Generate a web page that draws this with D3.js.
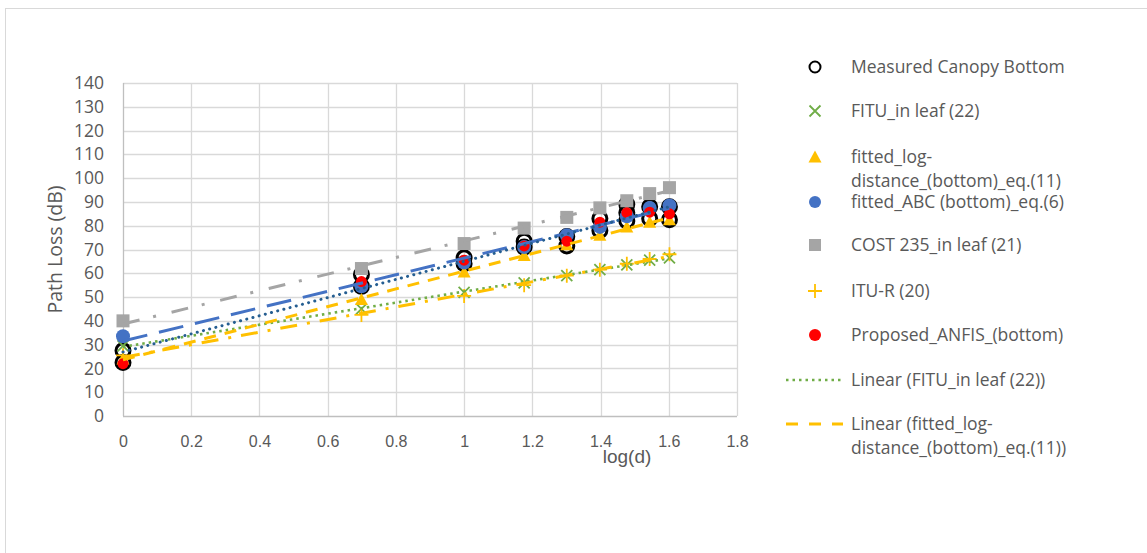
<!DOCTYPE html>
<html>
<head>
<meta charset="utf-8">
<script src="https://cdn.jsdelivr.net/npm/d3@7/dist/d3.min.js"></script>
<style>
  body { margin: 0; background: #fff; }
  svg { display: block; }
  .tick text { fill: #595959; }
</style>
</head>
<body>
<svg id="chart" width="1147" height="553"></svg>
<script>
// log10 of the link distances 1, 5, 10, ..., 40 m
const logD = [0, 0.699, 1, 1.176, 1.301, 1.398, 1.477, 1.544, 1.602];

// measured path loss: several samples per distance
const measuredX = [0, 0, 0.699, 0.699, 1, 1, 1.176, 1.176, 1.301, 1.301,
                   1.398, 1.398, 1.477, 1.477, 1.477, 1.544, 1.544, 1.602, 1.602];
const measuredY = [27.5, 22.5, 59.5, 54.5, 66.5, 64, 73.5, 71, 75.5, 71.5,
                   83, 78, 89, 85.5, 82, 88, 83, 88, 82.5];

const fituInLeaf   = [29.5, 45, 52, 56, 59, 61.5, 63.5, 65.5, 66.5];
const fittedLogDist = [24, 49, 60.5, 67.5, 72, 76, 79.5, 81.5, 82.5];
const fittedABC    = [33.5, 54.5, 64.5, 71, 76, 79.5, 84, 87.5, 88.5];
const cost235      = [40, 62, 72.5, 79, 83.5, 87.5, 90.5, 93.5, 96];
const ituR         = [25.5, 42.5, 50.5, 55, 59, 61.5, 64, 66, 68];
const anfis        = [22, 56.5, 65.5, 71.5, 73.5, 81.5, 85.5, 85.7, 85];

const yTicks = [0, 10, 20, 30, 40, 50, 60, 70, 80, 90, 100, 110, 120, 130, 140];
const xTicks = [0, 0.2, 0.4, 0.6, 0.8, 1, 1.2, 1.4, 1.6, 1.8];

const legendLabels = [
  ["Measured Canopy Bottom"],
  ["FITU_in leaf (22)"],
  ["fitted_log-", "distance_(bottom)_eq.(11)"],
  ["fitted_ABC (bottom)_eq.(6)"],
  ["COST 235_in leaf (21)"],
  ["ITU-R (20)"],
  ["Proposed_ANFIS_(bottom)"],
  ["Linear (FITU_in leaf (22))"],
  ["Linear (fitted_log-", "distance_(bottom)_eq.(11))"]
];

const svg = d3.select("#chart");
const font = "'Open Sans', sans-serif";
const narrow = "'Liberation Sans Narrow', 'Arial Narrow', 'Liberation Sans', sans-serif";

// chart area frame
svg.append("rect").attr("x", 5.5).attr("y", 8.5).attr("width", 1300).attr("height", 700)
  .attr("fill", "#fff").attr("stroke", "#d9d9d9").attr("stroke-width", 1);

const x = d3.scaleLinear().domain([0, 1.8]).range([123, 737]);
const y = d3.scaleLinear().domain([0, 140]).range([416, 83]);

// gridlines
const grid = svg.append("g");
grid.selectAll("line.h").data(yTicks.slice(1)).join("line")
  .attr("x1", x(0)).attr("x2", x(1.8))
  .attr("y1", d => Math.round(y(d)) + 0.5).attr("y2", d => Math.round(y(d)) + 0.5)
  .attr("stroke", "#d9d9d9").attr("stroke-width", 1.3);
grid.selectAll("line.v").data(xTicks.slice(1)).join("line")
  .attr("x1", d => Math.round(x(d)) + 0.5).attr("x2", d => Math.round(x(d)) + 0.5)
  .attr("y1", y(0)).attr("y2", y(140))
  .attr("stroke", "#d9d9d9").attr("stroke-width", 1.3);

// axis lines
svg.append("line").attr("x1", x(0)).attr("x2", x(1.8)).attr("y1", y(0) + 0.5).attr("y2", y(0) + 0.5)
  .attr("stroke", "#bfbfbf").attr("stroke-width", 1.3);
svg.append("line").attr("x1", x(0) + 0.5).attr("x2", x(0) + 0.5).attr("y1", y(0)).attr("y2", y(140))
  .attr("stroke", "#bfbfbf").attr("stroke-width", 1.3);

// tick labels
const yAxis = svg.append("g").attr("transform", `translate(${x(0)},0)`)
  .call(d3.axisLeft(y).tickValues(yTicks).tickSize(0).tickPadding(19).tickFormat(d3.format("d")));
yAxis.select(".domain").remove();
yAxis.selectAll("text").attr("font-family", font).attr("font-size", 17.5).attr("fill", "#595959");

const xAxis = svg.append("g").attr("transform", `translate(0,${y(0)})`)
  .call(d3.axisBottom(x).tickValues(xTicks).tickSize(0).tickPadding(20).tickFormat(d => String(d)));
xAxis.select(".domain").remove();
xAxis.selectAll("text").attr("font-family", narrow).attr("font-size", 16).attr("fill", "#595959");

// axis titles
svg.append("text").attr("x", 627).attr("y", 463).attr("text-anchor", "middle")
  .attr("font-family", narrow).attr("font-size", 19).attr("fill", "#595959").text("log(d)");
svg.append("text").attr("transform", `translate(62,${(y(0) + y(140)) / 2}) rotate(-90)`)
  .attr("text-anchor", "middle").attr("font-family", font).attr("font-size", 19.5)
  .attr("fill", "#595959").text("Path Loss (dB)");

// marker shapes
const markers = {
  circleOpen: (g, cx, cy) => g.append("circle").attr("cx", cx).attr("cy", cy).attr("r", 7)
    .attr("fill", "none").attr("stroke", "#000").attr("stroke-width", 3),
  cross: (g, cx, cy, c) => g.append("path")
    .attr("d", `M${cx - 5.5},${cy - 5.5}L${cx + 5.5},${cy + 5.5}M${cx - 5.5},${cy + 5.5}L${cx + 5.5},${cy - 5.5}`)
    .attr("stroke", c).attr("stroke-width", 1.8).attr("fill", "none"),
  triangle: (g, cx, cy, c) => g.append("path")
    .attr("d", `M${cx},${cy - 6.5}L${cx + 6.5},${cy + 5.5}L${cx - 6.5},${cy + 5.5}Z`).attr("fill", c),
  dot: (g, cx, cy, c, r) => g.append("circle").attr("cx", cx).attr("cy", cy).attr("r", r).attr("fill", c),
  square: (g, cx, cy, c) => g.append("rect").attr("x", cx - 6.5).attr("y", cy - 6.5)
    .attr("width", 13).attr("height", 13).attr("fill", c),
  plus: (g, cx, cy, c) => g.append("path")
    .attr("d", `M${cx - 7},${cy}L${cx + 7},${cy}M${cx},${cy - 7}L${cx},${cy + 7}`)
    .attr("stroke", c).attr("stroke-width", 1.8).attr("fill", "none")
};

const pts = svg.append("g");
measuredX.forEach((d, i) => markers.circleOpen(pts, x(d), y(measuredY[i])));
logD.forEach((d, i) => markers.cross(pts, x(d), y(fituInLeaf[i]), "#70AD47"));
logD.forEach((d, i) => markers.triangle(pts, x(d), y(fittedLogDist[i]), "#FFC000"));
logD.forEach((d, i) => markers.dot(pts, x(d), y(fittedABC[i]), "#4472C4", 7));
logD.forEach((d, i) => markers.square(pts, x(d), y(cost235[i]), "#A5A5A5"));
logD.forEach((d, i) => markers.plus(pts, x(d), y(ituR[i]), "#FFC000"));
logD.forEach((d, i) => markers.dot(pts, x(d), y(anfis[i]), "#FF0000", 5.5));

// least-squares trendlines
function fit(xs, ys) {
  const mx = d3.mean(xs), my = d3.mean(ys);
  const b = d3.sum(xs, (v, i) => (v - mx) * (ys[i] - my)) / d3.sum(xs, v => (v - mx) * (v - mx));
  return { a: my - b * mx, b };
}
const trend = svg.append("g");
function trendline(xs, ys, color, dash, width, cap) {
  const f = fit(xs, ys);
  const x0 = d3.min(xs), x1 = d3.max(xs);
  trend.append("line")
    .attr("x1", x(x0)).attr("y1", y(f.a + f.b * x0))
    .attr("x2", x(x1)).attr("y2", y(f.a + f.b * x1))
    .attr("stroke", color).attr("stroke-width", width)
    .attr("stroke-dasharray", dash).attr("stroke-linecap", cap || "butt");
}
trendline(logD, cost235, "#A5A5A5", "17,14,3,16", 3);
trendline(logD, fittedABC, "#4472C4", "25,12", 3);
trendline(measuredX, measuredY, "#255E91", "0.1,6.3", 3, "round");
trendline(logD, fituInLeaf, "#70AD47", "2.5,4", 2.6);
trendline(logD, fittedLogDist, "#FFC000", "12,9", 3);
trendline(logD, ituR, "#FFC000", "17,10,3,10", 3);

// legend
const legend = svg.append("g");
const rowY = [67, 111, 157, 202, 245, 291, 335, 380, 424];
const lx = 815, tx = 851, lineGap = 24;
legendLabels.forEach((lines, i) => {
  const t = legend.append("text").attr("x", tx).attr("y", rowY[i])
    .attr("dy", "0.35em").attr("font-family", font).attr("font-size", 17.5).attr("fill", "#595959");
  lines.forEach((s, j) => t.append("tspan").attr("x", tx).attr("dy", j === 0 ? "0.35em" : lineGap).text(s));
});
const L = legend;
L.append("circle").attr("cx", lx).attr("cy", rowY[0]).attr("r", 5.5)
  .attr("fill", "#fff").attr("stroke", "#000").attr("stroke-width", 2);
markers.cross(L, lx, rowY[1], "#70AD47");
markers.triangle(L, lx, rowY[2], "#FFC000");
markers.dot(L, lx, rowY[3], "#4472C4", 6);
L.append("rect").attr("x", lx - 6).attr("y", rowY[4] - 6).attr("width", 12).attr("height", 12).attr("fill", "#A5A5A5");
markers.plus(L, lx, rowY[5], "#FFC000");
markers.dot(L, lx, rowY[6], "#FF0000", 6);
L.append("line").attr("x1", 786).attr("x2", 843).attr("y1", rowY[7]).attr("y2", rowY[7])
  .attr("stroke", "#70AD47").attr("stroke-width", 2.6).attr("stroke-dasharray", "2.5,4");
L.append("line").attr("x1", 786).attr("x2", 843).attr("y1", rowY[8]).attr("y2", rowY[8])
  .attr("stroke", "#FFC000").attr("stroke-width", 3).attr("stroke-dasharray", "12,11");
</script>
</body>
</html>
